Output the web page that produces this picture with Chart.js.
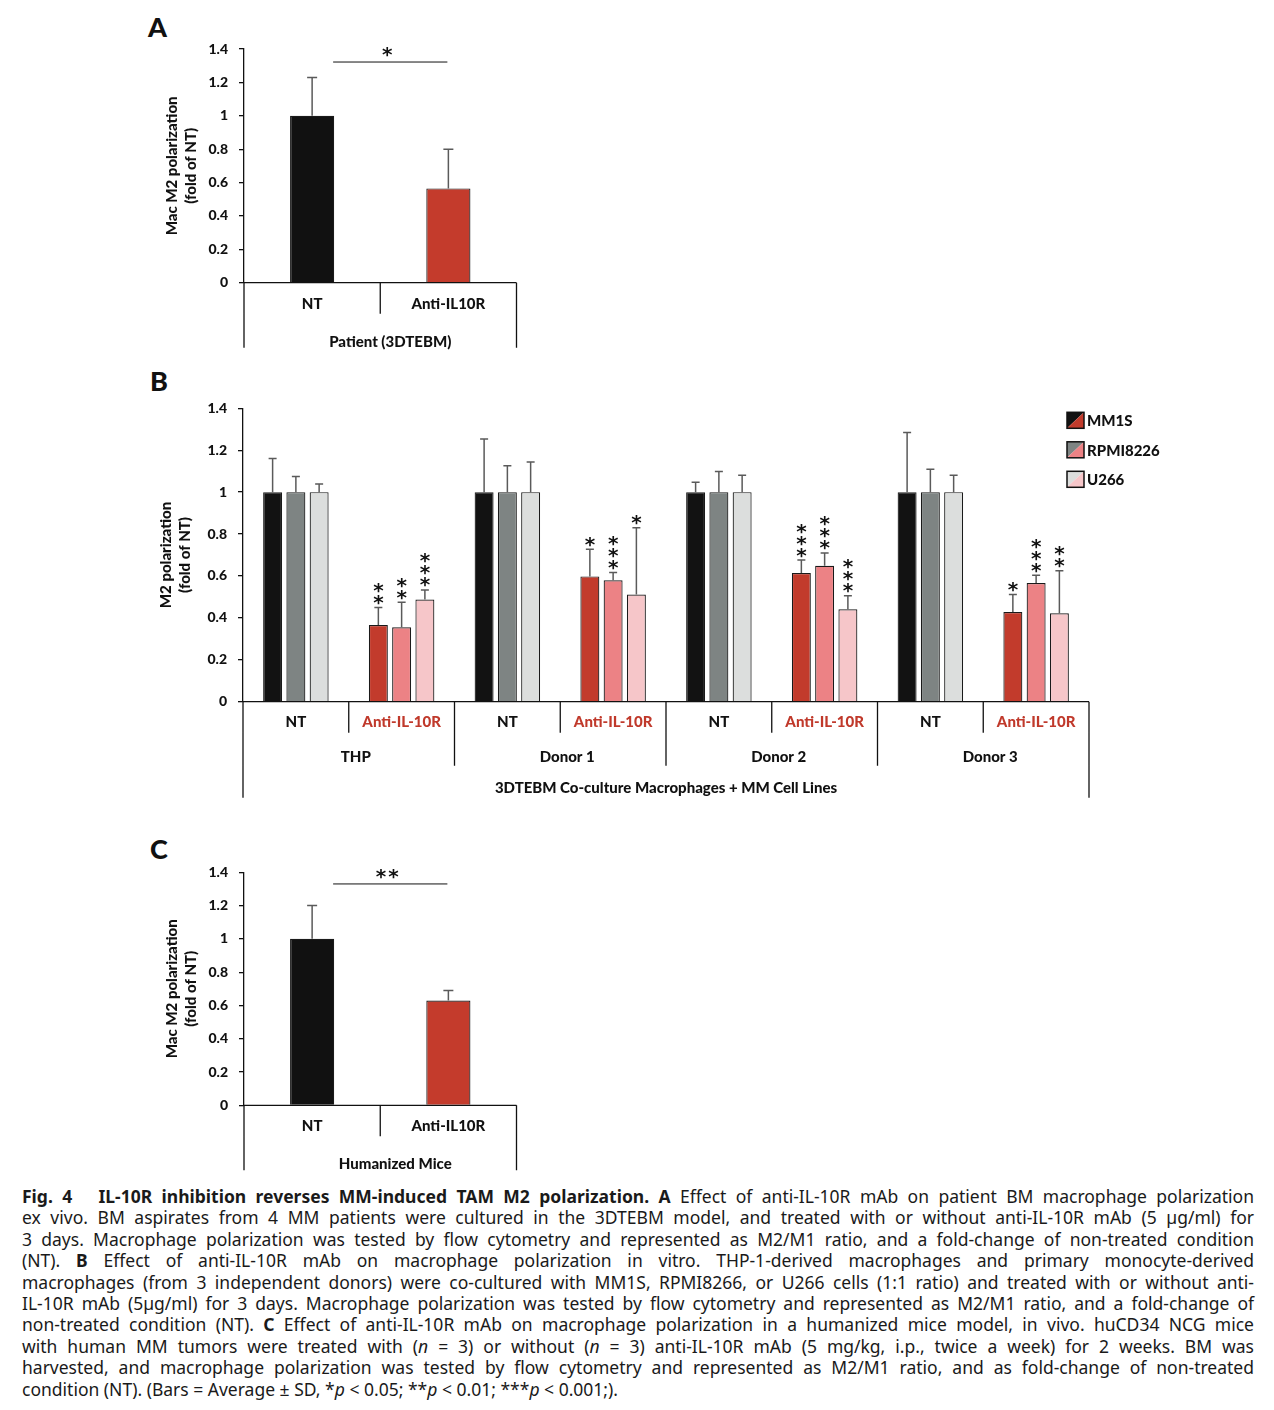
<!DOCTYPE html>
<html>
<head>
<meta charset="utf-8">
<script src="https://cdn.jsdelivr.net/npm/chart.js@4.4.1/dist/chart.umd.min.js"></script>
<style>
  body { margin: 0; background: #fff; }
  #page { position: relative; width: 1274px; height: 1410px; overflow: hidden; background: #fff; }
  canvas { position: absolute; }
  .letter { position: absolute; font: 900 27px Lato, sans-serif; color: #111; }
  #caption { position: absolute; left: 22px; top: 1186px; width: 1232px; font: 17.5px 'Noto Sans', sans-serif; line-height: 21.4px; color: #1a1a1a; }
  #caption .ln { white-space: nowrap; }
</style>
</head>
<body>
<div id="page">
  <div class="letter" style="left:148px;top:10px">A</div>
  <canvas id="chartA" width="400" height="340" style="left:140px;top:20px"></canvas>
  <div class="letter" style="left:150px;top:364px">B</div>
  <canvas id="chartB" width="1060" height="440" style="left:140px;top:380px"></canvas>
  <div class="letter" style="left:150px;top:832px">C</div>
  <canvas id="chartC" width="400" height="340" style="left:140px;top:843px"></canvas>

  <div id="caption">
    <div class="ln j"><span><b>Fig. 4&ensp;&ensp;&ensp;IL-10R inhibition reverses MM-induced TAM M2 polarization. A</b> Effect of anti-IL-10R mAb on patient BM macrophage polarization</span></div>
    <div class="ln j"><span>ex vivo. BM aspirates from 4 MM patients were cultured in the 3DTEBM model, and treated with or without anti-IL-10R mAb (5 µg/ml) for</span></div>
    <div class="ln j"><span>3 days. Macrophage polarization was tested by flow cytometry and represented as M2/M1 ratio, and a fold-change of non-treated condition</span></div>
    <div class="ln j"><span>(NT). <b>B</b> Effect of anti-IL-10R mAb on macrophage polarization in vitro. THP-1-derived macrophages and primary monocyte-derived</span></div>
    <div class="ln j"><span>macrophages (from 3 independent donors) were co-cultured with MM1S, RPMI8266, or U266 cells (1:1 ratio) and treated with or without anti-</span></div>
    <div class="ln j"><span>IL-10R mAb (5µg/ml) for 3 days. Macrophage polarization was tested by flow cytometry and represented as M2/M1 ratio, and a fold-change of</span></div>
    <div class="ln j"><span>non-treated condition (NT). <b>C</b> Effect of anti-IL-10R mAb on macrophage polarization in a humanized mice model, in vivo. huCD34 NCG mice</span></div>
    <div class="ln j"><span>with human MM tumors were treated with (<i>n</i> = 3) or without (<i>n</i> = 3) anti-IL-10R mAb (5 mg/kg, i.p., twice a week) for 2 weeks. BM was</span></div>
    <div class="ln j"><span>harvested, and macrophage polarization was tested by flow cytometry and represented as M2/M1 ratio, and as fold-change of non-treated</span></div>
    <div class="ln"><span>condition (NT). (Bars = Average ± SD, *<i>p</i> &lt; 0.05; **<i>p</i> &lt; 0.01; ***<i>p</i> &lt; 0.001;).</span></div>
  </div>
</div>

<script>
// Panel A - patient 3DTEBM
const catsA = ['NT', 'Anti-IL10R'];
const valsA = [1, 0.565];
const errA = [0.23, 0.235];

// Panel C - humanized mice
const catsC = ['NT', 'Anti-IL10R'];
const valsC = [1, 0.63];
const errC = [0.20, 0.06];

// Panel B - co-culture, 4 groups x (NT, Anti) x 3 cell lines
const groupsB = ['THP', 'Donor 1', 'Donor 2', 'Donor 3'];
const treatB = ['NT', 'Anti-IL-10R'];
const cellLines = ['MM1S', 'RPMI8226', 'U266'];
const mm1s = [1, 0.366, 1, 0.598, 1, 0.614, 1, 0.428];
const rpmi = [1, 0.355, 1, 0.579, 1, 0.649, 1, 0.566];
const u266 = [1, 0.488, 1, 0.511, 1, 0.441, 1, 0.422];
const mm1sErr = [0.161, 0.083, 0.254, 0.129, 0.047, 0.062, 0.285, 0.084];
const rpmiErr = [0.074, 0.119, 0.126, 0.037, 0.098, 0.061, 0.109, 0.037];
const u266Err = [0.039, 0.045, 0.144, 0.319, 0.080, 0.065, 0.080, 0.203];
const mm1sStars = ['', '**', '', '*', '', '***', '', '*'];
const rpmiStars = ['', '**', '', '***', '', '***', '', '***'];
const u266Stars = ['', '***', '', '*', '', '***', '', '**'];

// colours: NT shade / anti-IL-10R shade for each cell line
const ntColors = ['#121212', '#7e8483', '#dcdedd'];
const antiColors = ['#c23b2c', '#ec8285', '#f6c6c9'];
const treatColors = ['#111111', '#c0392b'];

Chart.defaults.font.family = 'Lato';
Chart.defaults.font.weight = '900';
Chart.defaults.color = '#111';

const STAR_FONT = 'bold 20px "DejaVu Sans"';
const LABEL_FONT = '900 15px Lato';
const tickFmt = v => String(Math.round(v * 10) / 10);

function yAxis(titleLines, width) {
    return {
        min: 0, max: 1.4,
        ticks: { stepSize: 0.2, padding: 11, color: '#111', font: { size: 14, weight: '900' }, callback: tickFmt },
        grid: { drawOnChartArea: false, drawTicks: true, tickLength: 5, color: '#111', lineWidth: 1.3 },
        border: { color: '#111', width: 1.3 },
        title: { display: true, text: titleLines, color: '#111', font: { size: 15, weight: '900', lineHeight: 1.3 }, padding: { top: 4, bottom: 4 } },
        afterFit: s => { s.width = width; }
    };
}

// upper error bars + stacked stars above them
const errorBars = {
    id: 'errorBars',
    afterDatasetsDraw(chart, args, opts) {
        const ctx = chart.ctx, y = chart.scales.y;
        chart.data.datasets.forEach((ds, i) => {
            const meta = chart.getDatasetMeta(i);
            meta.data.forEach((bar, j) => {
                const top = y.getPixelForValue(ds.data[j] + ds.errors[j]);
                ctx.save();
                ctx.strokeStyle = '#5a5a5a';
                ctx.lineWidth = 1.5;
                ctx.beginPath();
                ctx.moveTo(bar.x, bar.y);
                ctx.lineTo(bar.x, top);
                ctx.moveTo(bar.x - opts.cap, top);
                ctx.lineTo(bar.x + opts.cap, top);
                ctx.stroke();
                if (ds.stars && ds.stars[j]) {
                    ctx.fillStyle = '#111';
                    ctx.font = STAR_FONT;
                    ctx.textAlign = 'center';
                    ctx.textBaseline = 'alphabetic';
                    for (let k = 0; k < ds.stars[j].length; k++) {
                        const cy = top - 9 - k * 12;
                        ctx.fillText('*', bar.x, cy + 10.5);
                    }
                }
                ctx.restore();
            });
        });
    }
};

// axis box under panels A and C, plus the significance line
const simpleTable = {
    id: 'simpleTable',
    afterDraw(chart, args, opts) {
        const { ctx, chartArea: area, scales: { x, y } } = chart;
        const y0 = y.getPixelForValue(0);
        const mid = (x.getPixelForValue(0) + x.getPixelForValue(1)) / 2;
        ctx.save();
        ctx.strokeStyle = '#111';
        ctx.lineWidth = 1.3;
        ctx.beginPath();
        ctx.moveTo(area.left, y0); ctx.lineTo(area.right, y0);
        ctx.moveTo(area.left, y0); ctx.lineTo(area.left, y0 + 65);
        ctx.moveTo(area.right, y0); ctx.lineTo(area.right, y0 + 65);
        ctx.moveTo(mid, y0); ctx.lineTo(mid, y0 + 31);
        ctx.stroke();

        ctx.fillStyle = '#111';
        ctx.font = LABEL_FONT;
        ctx.textAlign = 'center';
        ctx.textBaseline = 'middle';
        chart.data.labels.forEach((l, i) => ctx.fillText(l, x.getPixelForValue(i), y0 + 21));
        ctx.fillText(opts.group, (area.left + area.right) / 2 + opts.groupShift, y0 + 59);

        const x1 = x.getPixelForValue(0) + 21, x2 = x.getPixelForValue(1) - 1;
        const ys = y.getPixelForValue(opts.sig);
        ctx.lineWidth = 1;
        ctx.beginPath();
        ctx.moveTo(x1, ys); ctx.lineTo(x2, ys);
        ctx.stroke();
        ctx.font = STAR_FONT;
        ctx.textBaseline = 'alphabetic';
        ctx.letterSpacing = '2px';
        ctx.fillText(opts.sigText, (x1 + x2) / 2 - 2, ys - 1);
        ctx.restore();
    }
};

// three-level axis box and legend for panel B
const groupTable = {
    id: 'groupTable',
    afterDraw(chart, args, opts) {
        const { ctx, chartArea: area, scales: { x, y } } = chart;
        const y0 = y.getPixelForValue(0);
        const step = x.getPixelForValue(1) - x.getPixelForValue(0);
        ctx.save();
        ctx.strokeStyle = '#111';
        ctx.lineWidth = 1.3;
        ctx.beginPath();
        ctx.moveTo(area.left, y0); ctx.lineTo(area.right, y0);
        ctx.moveTo(area.left, y0); ctx.lineTo(area.left, y0 + 96);
        ctx.moveTo(area.right, y0); ctx.lineTo(area.right, y0 + 96);
        for (let i = 1; i < chart.data.labels.length; i++) {
            const bx = x.getPixelForValue(i) - step / 2;
            ctx.moveTo(bx, y0);
            ctx.lineTo(bx, y0 + (i % 2 ? 31 : 64));
        }
        ctx.stroke();

        ctx.font = LABEL_FONT;
        ctx.textAlign = 'center';
        ctx.textBaseline = 'middle';
        chart.data.labels.forEach((l, i) => {
            ctx.fillStyle = treatColors[i % 2];
            ctx.fillText(l, x.getPixelForValue(i), y0 + 20);
        });
        ctx.fillStyle = '#111';
        groupsB.forEach((g, k) => {
            const gx = (x.getPixelForValue(2 * k) + x.getPixelForValue(2 * k + 1)) / 2;
            ctx.fillText(g, gx + 7, y0 + 55);
        });
        ctx.fillText(opts.bottom, (area.left + area.right) / 2, y0 + 86);

        // legend with split swatches
        cellLines.forEach((name, k) => {
            const sx = area.right - 22, sy = area.top + 4 + k * 29.5, w = 17, h = 16;
            ctx.fillStyle = ntColors[k];
            ctx.beginPath();
            ctx.moveTo(sx, sy); ctx.lineTo(sx + w, sy); ctx.lineTo(sx, sy + h); ctx.closePath();
            ctx.fill();
            ctx.fillStyle = antiColors[k];
            ctx.beginPath();
            ctx.moveTo(sx + w, sy); ctx.lineTo(sx + w, sy + h); ctx.lineTo(sx, sy + h); ctx.closePath();
            ctx.fill();
            ctx.lineWidth = 1.5;
            ctx.strokeRect(sx, sy, w, h);
            ctx.fillStyle = '#111';
            ctx.font = LABEL_FONT;
            ctx.textAlign = 'left';
            ctx.fillText(name, sx + 20, sy + h / 2 + 1);
        });
        ctx.restore();
    }
};

function simpleChart(id, cats, vals, errs, group, groupShift, sig, sigText, pad) {
    return new Chart(document.getElementById(id), {
        type: 'bar',
        data: {
            labels: cats,
            datasets: [{
                data: vals,
                errors: errs,
                backgroundColor: ['#111111', '#c43b2c'],
                borderColor: '#1a1a1a',
                borderWidth: 1.2,
                barPercentage: 0.324,
                categoryPercentage: 1
            }]
        },
        options: {
            responsive: false,
            animation: false,
            devicePixelRatio: 1,
            layout: { padding: pad },
            plugins: {
                legend: { display: false },
                tooltip: { enabled: false },
                errorBars: { cap: 5 },
                simpleTable: { group: group, groupShift: groupShift, sig: sig, sigText: sigText }
            },
            scales: {
                x: { display: false },
                y: yAxis(['Mac M2 polarization', '(fold of NT)'], 86)
            }
        },
        plugins: [errorBars, simpleTable]
    });
}

simpleChart('chartA', catsA, valsA, errA, 'Patient (3DTEBM)', 10, 1.322, '*',
    { left: 18, right: 23.5, top: 29, bottom: 77.3 });
simpleChart('chartC', catsC, valsC, errC, 'Humanized Mice', 15, 1.33, '**',
    { left: 18, right: 23.5, top: 29.3, bottom: 77.7 });

// Panel B
const labelsB = [];
groupsB.forEach(g => treatB.forEach(t => labelsB.push(t)));
const seriesB = [mm1s, rpmi, u266];
const errsB = [mm1sErr, rpmiErr, u266Err];
const starsB = [mm1sStars, rpmiStars, u266Stars];

new Chart(document.getElementById('chartB'), {
    type: 'bar',
    data: {
        labels: labelsB,
        datasets: cellLines.map((name, k) => ({
            label: name,
            data: seriesB[k],
            errors: errsB[k],
            stars: starsB[k],
            backgroundColor: labelsB.map((l, i) => i % 2 ? antiColors[k] : ntColors[k]),
            borderColor: '#1a1a1a',
            borderWidth: 1.2,
            barPercentage: 0.815,
            categoryPercentage: 0.66
        }))
    },
    options: {
        responsive: false,
        animation: false,
        devicePixelRatio: 1,
        layout: { padding: { left: 12, right: 111, top: 28.3, bottom: 118.3 } },
        plugins: {
            legend: { display: false },
            tooltip: { enabled: false },
            errorBars: { cap: 4 },
            groupTable: { bottom: '3DTEBM Co-culture Macrophages + MM Cell Lines' }
        },
        scales: {
            x: { display: false },
            y: yAxis(['M2 polarization', '(fold of NT)'], 91)
        }
    },
    plugins: [errorBars, groupTable]
});

// justify caption lines by word spacing
document.querySelectorAll('#caption .ln.j').forEach(el => {
    const span = el.firstElementChild;
    const w = span.getBoundingClientRect().width;
    const spaces = span.textContent.split(' ').length - 1;
    el.style.wordSpacing = ((1232 - w) / spaces) + 'px';
});
</script>
</body>
</html>
